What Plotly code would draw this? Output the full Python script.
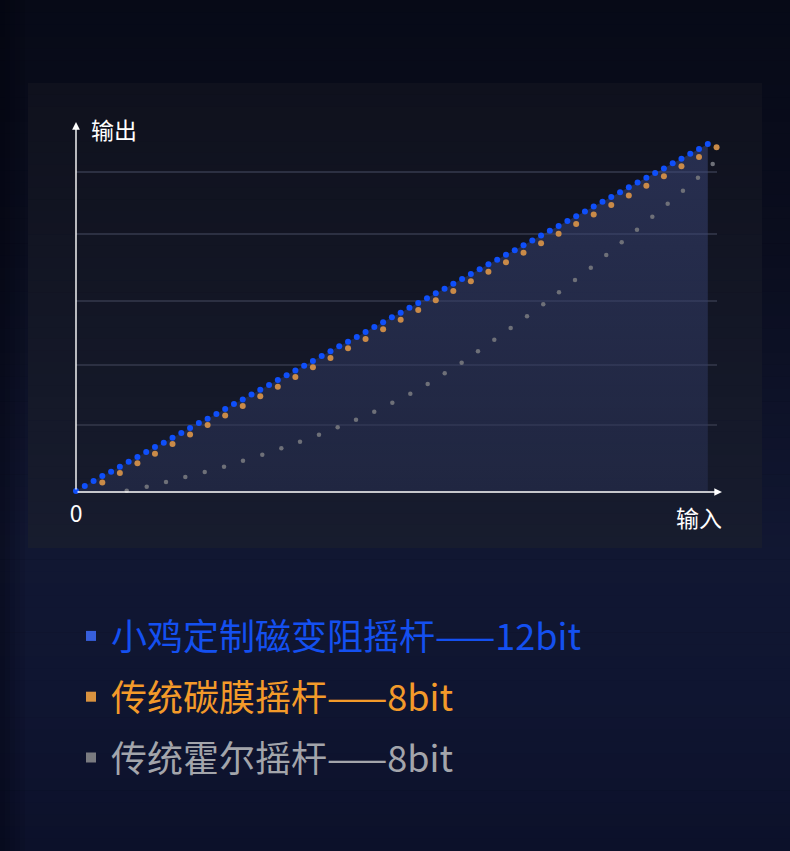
import plotly.graph_objects as go

# ---------------- data ----------------
blue_in = [0, 1, 2, 3, 4, 5, 6, 7, 8, 9, 10, 11, 12, 13, 14, 15, 16, 17, 18, 19,
           20, 21, 22, 23, 24, 25, 26, 27, 28, 29, 30, 31, 32, 33, 34, 35, 36, 37, 38, 39,
           40, 41, 42, 43, 44, 45, 46, 47, 48, 49, 50, 51, 52, 53, 54, 55, 56, 57, 58, 59,
           60, 61, 62, 63, 64, 65, 66, 67, 68, 69, 70, 71, 72]
blue_out = [0, 5, 10, 15, 19.3, 24.3, 29.3, 34, 39, 44,
            48.3, 53.3, 58, 63, 68, 72.3, 77, 82, 87, 91.5,
            96.4, 101.2, 106, 110.9, 115.7, 120.5, 125.3, 130, 135, 139.7,
            144.7, 149.3, 154, 159, 164, 168.7, 173.7, 178.3, 183.3, 188,
            192.7, 197.7, 202.3, 207.3, 212, 217, 221.7, 226.7, 231.3, 236.3,
            240.7, 245.8, 250.6, 255.5, 260.3, 265.1, 269.9, 274.7, 279.6, 284.4,
            289.2, 294, 298.8, 303.7, 308.5, 313.3, 318, 322.6, 327.7, 332.3,
            337.3, 342, 347]

orange_in = [1, 3, 5, 7, 9, 11, 13, 15, 17, 19, 21, 23, 25, 27, 29, 31, 33, 35, 37,
             39, 41, 43, 45, 47, 49, 51, 53, 55, 57, 59, 61, 63, 65, 67, 69, 71, 73]
orange_out = [-0.5, 8.6, 18.1, 27.7, 37.3, 46.9, 56.4, 66, 75.6, 85.1, 94.7, 104.3,
              113.9, 123.7, 133, 142.7, 152, 161.7, 171.3, 181, 190.7, 200, 209.7,
              219.3, 228.7, 238.3, 247.7, 257.3, 266.9, 276.5, 286, 295.6, 305.2,
              314.8, 324.7, 334, 343.7]

grey_in = [5.78, 8.06, 10.26, 12.46, 14.67, 16.87, 19.03, 21.23, 23.40, 25.53,
           27.69, 29.82, 31.91, 33.99, 36.05, 38.10, 40.08, 42.02, 43.95, 45.81,
           47.67, 49.54, 51.40, 53.25, 55.04, 56.87, 58.67, 60.43, 62.19, 63.93,
           65.68, 67.43, 69.17, 70.88, 72.56]
grey_out = [0.3, 4.3, 9, 14, 19, 24.3, 30.3, 36.3, 42.7, 49.3,
            56.3, 63.7, 71.3, 79.3, 88.3, 97.3, 107, 117.7, 128.3, 139.7,
            151.3, 163, 174.7, 186.7, 198.7, 211, 223.2, 236, 248.7, 261.3,
            274.3, 287.3, 300.3, 313.3, 327]

grid_levels = [66.3, 125.7, 190.3, 256.7, 319]

series_names = ["小鸡定制磁变阻摇杆——12bit", "传统碳膜摇杆——8bit", "传统霍尔摇杆——8bit"]
x_label = "输入"
y_label = "输出"
x_tick_labels = ["0"]

# ---------------- layout geometry ----------------
W, H = 790, 851
ML, MR, MT, MB = 76, 73, 122, 360
PW, PH = W - ML - MR, H - MT - MB


def px2x(px):
    return (px - ML) / PW


def py2y(py):
    return (H - MB - py) / PH


def lerp_color(stops, v):
    for (a, ca), (b, cb) in zip(stops[:-1], stops[1:]):
        if a <= v <= b:
            t = (v - a) / (b - a) if b > a else 0
            return tuple(round(ca[k] + (cb[k] - ca[k]) * t) for k in range(3))
    return stops[-1][1] if v > stops[-1][0] else stops[0][1]


shapes = []
# page background: vertical gradient bands
bg_stops = [(0, (7, 10, 23)), (250, (10, 13, 30)), (550, (17, 23, 50)),
            (700, (15, 21, 49)), (851, (12, 17, 42))]
n = 70
for k in range(n):
    y0 = H * k / n
    y1 = H * (k + 1) / n + 0.6
    c = lerp_color(bg_stops, (y0 + y1) / 2)
    shapes.append(dict(type="rect", xref="paper", yref="paper", layer="below",
                       x0=px2x(0), x1=px2x(W), y0=py2y(y1), y1=py2y(y0),
                       line=dict(width=0), fillcolor="rgb(%d,%d,%d)" % c))
# darker left strip
for k, a in enumerate([0.35, 0.28, 0.2, 0.12, 0.06]):
    shapes.append(dict(type="rect", xref="paper", yref="paper", layer="below",
                       x0=px2x(k * 5), x1=px2x(k * 5 + 5), y0=py2y(H), y1=py2y(0),
                       line=dict(width=0), fillcolor="rgba(0,0,8,%.2f)" % a))
# panel
panel_stops = [(83, (15, 17, 29)), (548, (23, 28, 46))]
np_ = 40
for k in range(np_):
    y0 = 83 + (548 - 83) * k / np_
    y1 = 83 + (548 - 83) * (k + 1) / np_ + 0.6
    c = lerp_color(panel_stops, (y0 + y1) / 2)
    shapes.append(dict(type="rect", xref="paper", yref="paper", layer="below",
                       x0=px2x(28), x1=px2x(762), y0=py2y(min(y1, 548)), y1=py2y(y0),
                       line=dict(width=0), fillcolor="rgb(%d,%d,%d)" % c))

fig = go.Figure()

# shaded area under the 12-bit series (semi-transparent so the grid shows through)
fig.add_trace(go.Scatter(
    x=blue_in, y=blue_out, mode="none", fill="tozeroy",
    fillgradient=dict(type="vertical",
                      colorscale=[[0, "rgba(42,50,86,0.5)"], [1, "rgba(62,74,127,0.5)"]]),
    showlegend=False, hoverinfo="skip"))

fig.add_trace(go.Scatter(
    x=grey_in, y=grey_out, mode="markers", cliponaxis=False,
    marker=dict(size=4.5, color="#6e7078"), showlegend=False, name=series_names[2]))
fig.add_trace(go.Scatter(
    x=orange_in, y=orange_out, mode="markers", cliponaxis=False,
    marker=dict(size=6, color="#c98a48"), showlegend=False, name=series_names[1]))
fig.add_trace(go.Scatter(
    x=blue_in, y=blue_out, mode="markers", cliponaxis=False,
    marker=dict(size=6, color="#0f4ffa"), showlegend=False, name=series_names[0]))

# legend entries
legend_marker = ["#375fdc", "#d9923f", "#7a7b80"]
legend_text = ["#1450f0", "#f39a2a", "#a3a5ab"]
for i, nm in enumerate(series_names):
    fig.add_trace(go.Scatter(
        x=[None], y=[None], mode="markers",
        marker=dict(symbol="square", size=10, color=legend_marker[i]),
        name="<span style='color:%s'>%s</span>" % (legend_text[i], nm),
        legendgroup="g%d" % i, showlegend=True))

annotations = [
    # y axis arrow
    dict(xref="paper", yref="paper", x=px2x(76), y=py2y(122), ax=0, ay=369,
         text="", showarrow=True, arrowhead=2, arrowsize=1.1, arrowwidth=1.4,
         arrowcolor="#ffffff", standoff=0, startstandoff=0),
    # x axis arrow
    dict(xref="paper", yref="paper", x=px2x(722), y=py2y(492), ax=-646, ay=0,
         text="", showarrow=True, arrowhead=2, arrowsize=1.1, arrowwidth=1.4,
         arrowcolor="#ffffff", standoff=0, startstandoff=0),
    dict(xref="paper", yref="paper", x=px2x(89), y=py2y(129), xanchor="left",
         yanchor="middle", text=y_label, showarrow=False,
         font=dict(size=23, color="#ffffff", family="Noto Sans CJK SC")),
    dict(xref="paper", yref="paper", x=px2x(724), y=py2y(517), xanchor="right",
         yanchor="middle", text=x_label, showarrow=False,
         font=dict(size=23, color="#ffffff", family="Noto Sans CJK SC")),
]

fig.update_layout(
    width=W, height=H,
    margin=dict(l=ML, r=MR, t=MT, b=MB, autoexpand=False),
    paper_bgcolor="#070a17", plot_bgcolor="rgba(0,0,0,0)",
    shapes=shapes, annotations=annotations,
    font=dict(family="Noto Sans CJK SC", color="#ffffff"),
    xaxis=dict(range=[0, 73.05], showgrid=False, zeroline=False, showline=False,
               tickvals=[0], ticktext=x_tick_labels, ticks="", ticklabelstandoff=7,
               tickfont=dict(size=23, color="#ffffff", family="Noto Sans CJK SC"),
               fixedrange=True),
    yaxis=dict(range=[0, 369], showgrid=True, gridcolor="#2c3042", gridwidth=1.5,
               zeroline=False, showline=False, tickvals=grid_levels,
               showticklabels=False, ticks="", fixedrange=True),
    showlegend=True,
    legend=dict(x=px2x(71), y=py2y(606), xanchor="left", yanchor="top",
                orientation="v", bgcolor="rgba(0,0,0,0)", borderwidth=0,
                tracegroupgap=11,
                font=dict(size=36, family="Noto Sans CJK SC")),
)

fig.write_html("out.html", config={"displayModeBar": False},
               post_script="document.body.style.margin='0';document.body.style.overflow='hidden';")
